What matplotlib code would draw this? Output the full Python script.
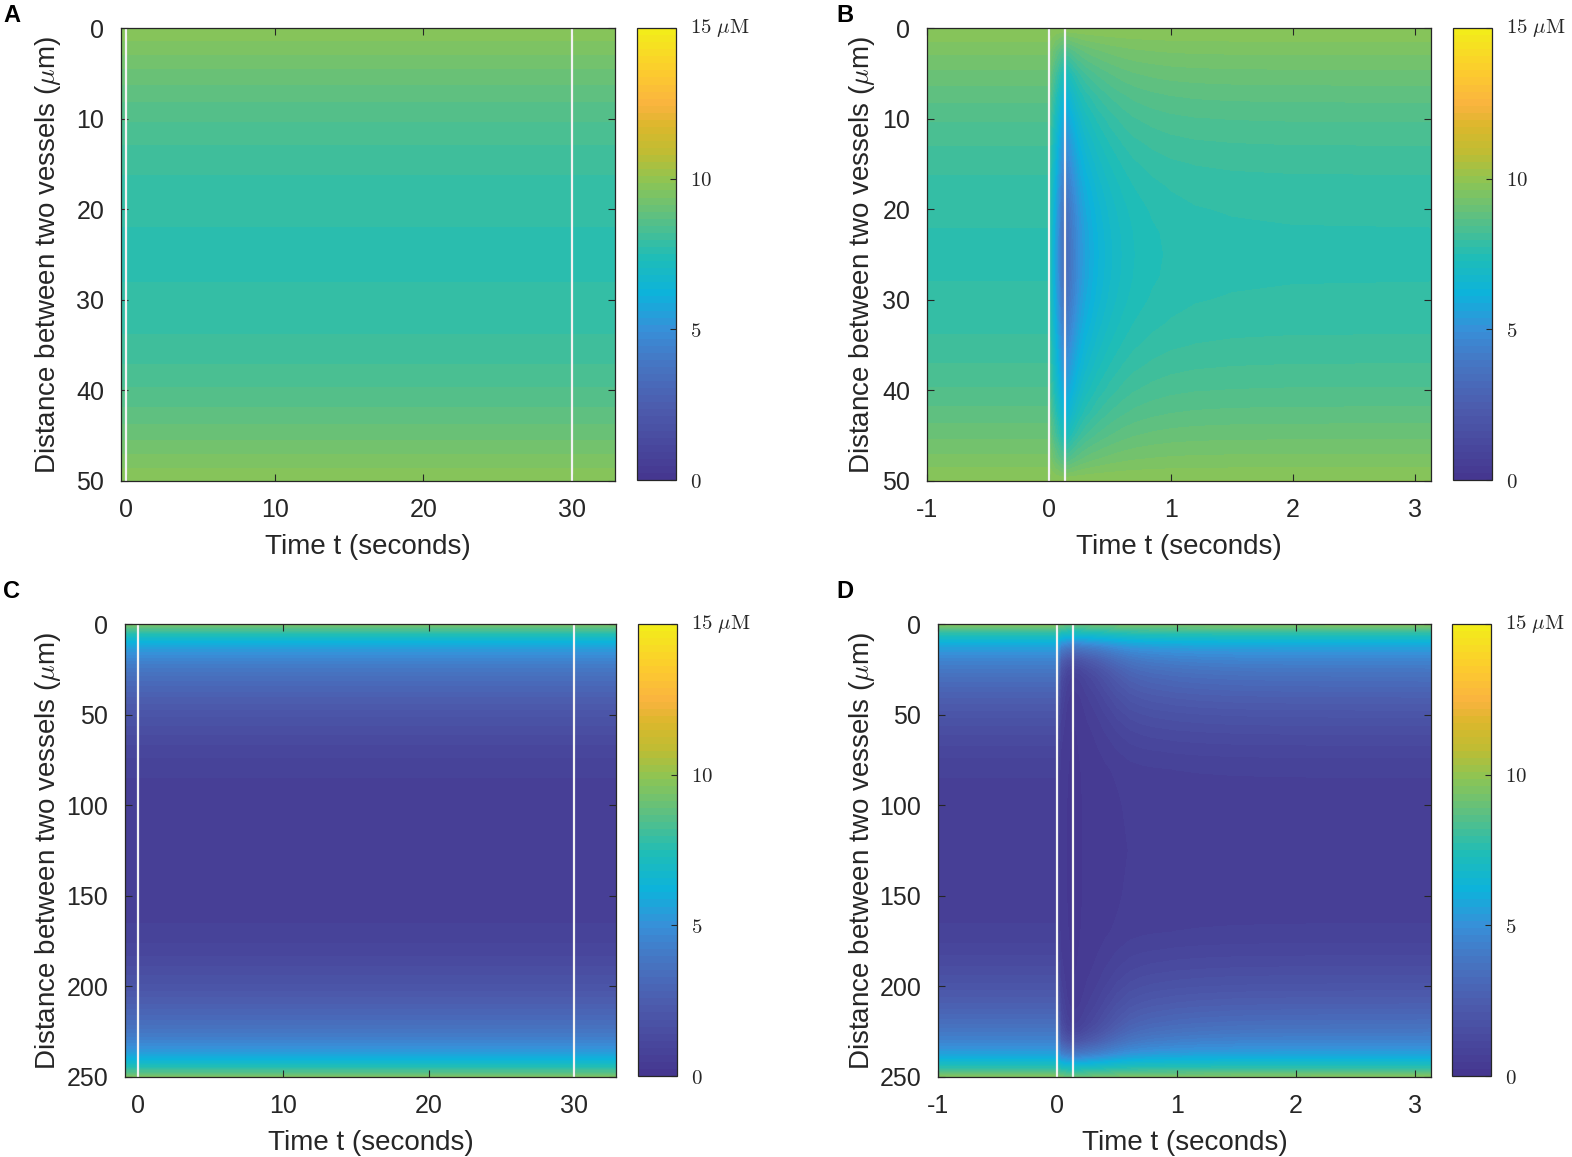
import numpy as np
import matplotlib.pyplot as plt
from matplotlib.colors import LinearSegmentedColormap
from matplotlib.transforms import ScaledTranslation

plt.rcParams['font.family'] = ['Liberation Sans', 'DejaVu Sans']
plt.rcParams['mathtext.fontset'] = 'cm'

# distance between vessels (um) and concentration (uM), panels A/B
dist_ab = [0, 2.5, 5, 7.5, 10, 12.5, 15, 17.5, 20, 22.5, 25,
           27.5, 30, 32.5, 35, 37.5, 40, 42.5, 45, 47.5, 50]
steady_ab = [9.85, 9.44, 9.08, 8.75, 8.47, 8.24, 8.04, 7.89, 7.79, 7.72, 7.70,
             7.72, 7.79, 7.89, 8.04, 8.24, 8.47, 8.75, 9.08, 9.44, 9.85]
trough_b = [9.85, 8.4, 7.2, 6.3, 5.6, 5.0, 4.5, 4.0, 3.6, 3.35, 3.25,
            3.35, 3.6, 4.0, 4.5, 5.0, 5.6, 6.3, 7.2, 8.4, 9.85]

# panels C/D
dist_cd = [0, 2.5, 5, 7.5, 10, 12.5, 15, 20, 25, 30, 40, 50, 60, 70, 80, 85, 90, 100, 125,
           150, 160, 165, 170, 180, 190, 200, 210, 220, 225, 230, 235, 237.5, 240, 242.5, 245, 247.5, 250]
steady_cd = [9.6, 8.6, 7.7, 6.9, 6.2, 5.65, 5.2, 4.5, 3.9, 3.4, 2.6, 1.95, 1.45, 1.05, 0.76, 0.70, 0.66, 0.62, 0.58,
             0.62, 0.66, 0.70, 0.76, 1.05, 1.45, 1.95, 2.6, 3.4, 3.9, 4.5, 5.2, 5.65, 6.2, 6.9, 7.7, 8.6, 9.6]
trough_d = [9.0, 8.0, 7.0, 6.0, 5.0, 4.0, 3.2, 1.8, 1.0, 0.6, 0.35, 0.25, 0.2, 0.2, 0.2, 0.2, 0.2, 0.2, 0.2,
            0.2, 0.2, 0.2, 0.2, 0.2, 0.2, 0.25, 0.35, 0.6, 1.0, 1.8, 3.2, 4.0, 5.0, 6.0, 7.0, 8.0, 9.0]

# time axes (s) and fraction of the drop still present
t_flat = [-1.5, 33.5]
t_b = [-1, 0, 0.05, 0.1, 0.13, 0.16, 0.2, 0.25, 0.3, 0.4, 0.5, 0.6, 0.7, 0.85, 1.0, 1.2, 1.5, 2.0, 3.2]
rec_b = [0, 0, 0.45, 0.85, 1.0, 0.95, 0.78, 0.6, 0.47, 0.32, 0.22, 0.15, 0.1, 0.06, 0.035, 0.018, 0.008, 0.002, 0]
t_d = [-1, 0, 0.03, 0.08, 0.13, 0.19, 0.25, 0.33, 0.4, 0.5, 0.61, 0.7, 0.8, 1.0, 1.2, 1.5, 2.0, 2.5, 3.2]
rec_d = [0, 0, 0.7, 0.92, 1.0, 0.95, 0.85, 0.73, 0.6, 0.42, 0.27, 0.2, 0.15, 0.09, 0.055, 0.025, 0.008, 0.003, 0]

# parula-like map as it looks in the figure (64 colour steps)
cmap_pts = [(0.0, (0.27, 0.21, 0.56)), (2.4, (0.30, 0.36, 0.68)), (4.0, (0.27, 0.47, 0.77)),
            (5.0, (0.22, 0.56, 0.85)), (6.2, (0.05, 0.70, 0.86)), (7.4, (0.12, 0.74, 0.72)),
            (8.7, (0.35, 0.75, 0.52)), (9.9, (0.55, 0.77, 0.33)), (10.9, (0.75, 0.74, 0.20)),
            (11.8, (0.86, 0.72, 0.17)), (12.5, (0.98, 0.70, 0.25)), (13.6, (0.99, 0.80, 0.18)),
            (15.0, (0.95, 0.93, 0.10))]
parula = LinearSegmentedColormap.from_list('parula_ish', [(v / 15, c) for v, c in cmap_pts])
levels = np.linspace(0, 15, 65)
dark = (0.15, 0.15, 0.15)

W, H = 1572, 1157
fig = plt.figure(figsize=(W / 100, H / 100), dpi=100)


def px(l, t, r, b):
    return [l / W, 1 - b / H, (r - l) / W, (b - t) / H]


def field(steady, trough, rec):
    s = np.array(steady)[:, None]
    return s + (np.array(trough)[:, None] - s) * np.array(rec)[None, :]


panels = [
    dict(ax=px(121, 28, 615, 481), cb=px(637, 28, 676, 480), letter='A', lpos=(3, 15),
         t=t_flat, d=dist_ab, z=np.tile(np.array(steady_ab)[:, None], (1, 2)),
         xlim=(-0.33, 32.9), xt=[0, 10, 20, 30], yt=[0, 10, 20, 30, 40, 50], ylim=50,
         lines=[0, 30], ylx=-0.117),
    dict(ax=px(927, 28, 1431, 481), cb=px(1453, 28, 1492, 480), letter='B', lpos=(836, 15),
         t=t_b, d=dist_ab, z=field(steady_ab, trough_b, rec_b),
         xlim=(-1, 3.13), xt=[-1, 0, 1, 2, 3], yt=[0, 10, 20, 30, 40, 50], ylim=50,
         lines=[0, 0.13], ylx=-0.099),
    dict(ax=px(125, 624, 616, 1077), cb=px(638, 624, 677, 1076), letter='C', lpos=(3, 591),
         t=t_flat, d=dist_cd, z=np.tile(np.array(steady_cd)[:, None], (1, 2)),
         xlim=(-0.9, 32.9), xt=[0, 10, 20, 30], yt=[0, 50, 100, 150, 200, 250], ylim=250,
         lines=[0, 30], ylx=-0.126),
    dict(ax=px(938, 624, 1431, 1077), cb=px(1452, 624, 1491, 1076), letter='D', lpos=(836, 591),
         t=t_d, d=dist_cd, z=field(steady_cd, trough_d, rec_d),
         xlim=(-1, 3.13), xt=[-1, 0, 1, 2, 3], yt=[0, 50, 100, 150, 200, 250], ylim=250,
         lines=[0, 0.13], ylx=-0.124),
]

for p in panels:
    ax = fig.add_axes(p['ax'])
    cs = ax.contourf(p['t'], p['d'], p['z'], levels=levels, cmap=parula, vmin=0, vmax=15)
    for x in p['lines']:
        ax.axvline(x, color='#f2f2f2', lw=1.6)
    ax.set_xlim(*p['xlim'])
    ax.set_ylim(p['ylim'], 0)
    ax.set_xticks(p['xt'])
    ax.set_xticklabels([str(v) for v in p['xt']])
    ax.set_yticks(p['yt'])
    ax.tick_params(direction='in', length=5, width=0.8, top=True, right=True,
                   labelsize=18, colors=dark, pad=12)
    for s in ax.spines.values():
        s.set_color(dark)
        s.set_linewidth(0.9)
    ax.set_xlabel('Time t (seconds)', fontsize=20, color=dark)
    ax.xaxis.set_label_coords(0.5, -0.118)
    ax.set_ylabel(r'Distance between two vessels ($\mu$m)', fontsize=20, color=dark)
    ax.yaxis.set_label_coords(p['ylx'], 0.5)

    cax = fig.add_axes(p['cb'])
    cb = fig.colorbar(cs, cax=cax, ticks=[0, 5, 10, 15])
    cb.set_ticklabels([r'$0$', r'$5$', r'$10$', r'$15\ \mu\mathrm{M}$'])
    cax.tick_params(direction='in', length=4, width=0.8, labelsize=15, colors=dark, pad=10)
    cb.outline.set_edgecolor(dark)
    cb.outline.set_linewidth(0.9)
    top_lab = cax.get_yticklabels()[-1]
    top_lab.set_transform(top_lab.get_transform() + ScaledTranslation(0, 3 / 100, fig.dpi_scale_trans))

    fig.text(p['lpos'][0] / W, 1 - p['lpos'][1] / H, p['letter'], fontsize=17,
             fontweight='bold', ha='left', va='center')

fig.savefig('out.png', dpi=100)
